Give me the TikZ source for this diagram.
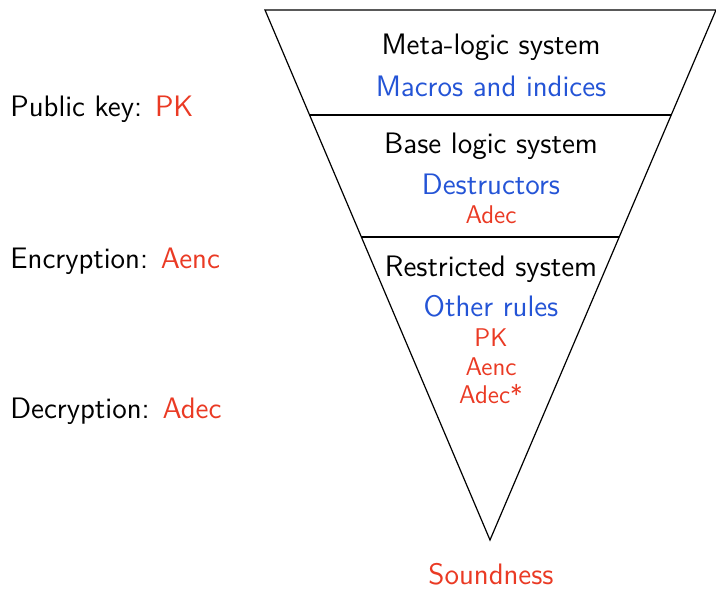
\documentclass[tikz,border=0pt]{standalone}
\usepackage{fontspec}
\usetikzlibrary{calc}
\definecolor{rulered}{RGB}{234,58,36}
\definecolor{ruleblue}{RGB}{36,84,214}
\begin{document}
\begin{tikzpicture}[x=0.5pt,y=-0.5pt,
    every node/.style={inner sep=0pt,font=\sffamily\fontsize{14.8}{17}\selectfont},
    head/.style={anchor=base,text=black},
    group/.style={anchor=base,text=ruleblue},
    item/.style={anchor=base,text=rulered,font=\sffamily\fontsize{12.8}{15}\selectfont},
    side/.style={anchor=base west,text=black},
    edge/.style={line width=0.6pt,draw=black}]
  \useasboundingbox (0,0) rectangle (716,588);

  % corners of the inverted triangle
  \coordinate (tl) at (265,10);
  \coordinate (tr) at (716,10);
  \coordinate (apex) at (490,540);

  % level boundaries
  \coordinate (l1) at ($(tl)!0.1981!(apex)$);
  \coordinate (r1) at ($(tr)!0.1981!(apex)$);
  \coordinate (l2) at ($(tl)!0.4283!(apex)$);
  \coordinate (r2) at ($(tr)!0.4283!(apex)$);

  \draw[edge] (tl) -- (tr) -- (apex) -- cycle;
  \draw[edge] (l1) -- (r1);
  \draw[edge] (l2) -- (r2);

  % meta-logic level
  \node[head]  (meta)   at (491,55)  {Meta-logic system};
  \node[group] (macros) at (491,97)  {Macros and indices};

  % base logic level
  \node[head]  (base)   at (491,154) {Base logic system};
  \node[group] (destr)  at (491,195) {Destructors};
  \node[item]  (adecb)  at (491,223) {Adec};

  % restricted level
  \node[head]  (restr)  at (491,276) {Restricted system};
  \node[group] (other)  at (491,316) {Other rules};
  \node[item]  (pkr)    at (491,346) {PK};
  \node[item]  (aencr)  at (491,375) {Aenc};
  \node[item]  (adecr)  at (491,403) {Adec*};

  \node[anchor=base,text=rulered] (sound) at (491,584) {Soundness};

  % legend on the left
  \node[side] (pk)   at (10,117) {Public key: \textcolor{rulered}{PK}};
  \node[side] (aenc) at (10,268) {Encryption: \textcolor{rulered}{Aenc}};
  \node[side] (adec) at (10,418) {Decryption: \textcolor{rulered}{Adec}};
\end{tikzpicture}
\end{document}
